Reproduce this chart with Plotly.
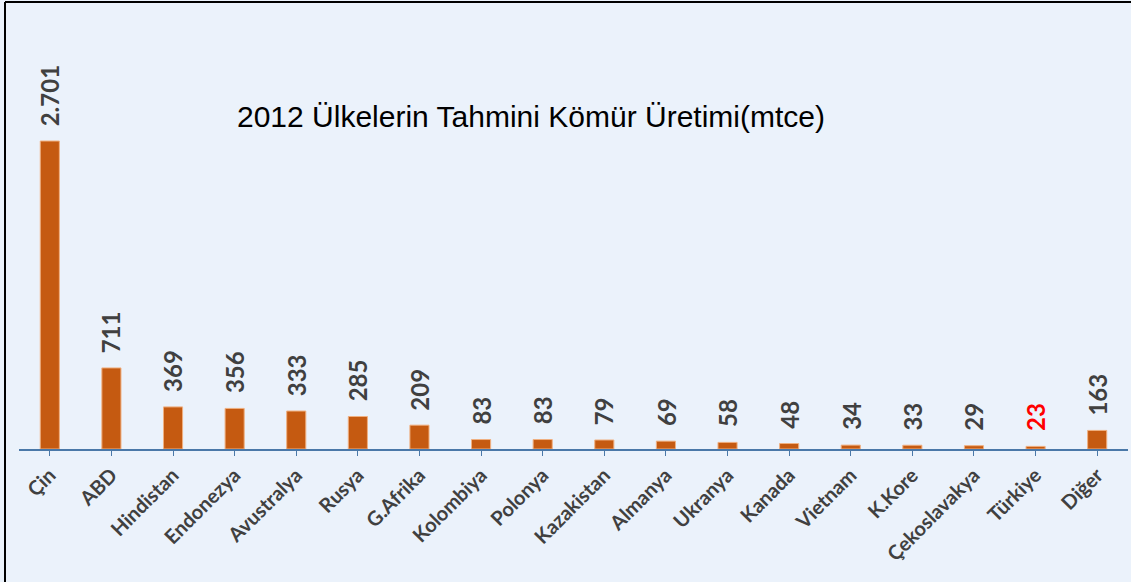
import plotly.graph_objects as go

countries = ["Çin", "ABD", "Hindistan", "Endonezya", "Avustralya", "Rusya", "G.Afrika",
             "Kolombiya", "Polonya", "Kazakistan", "Almanya", "Ukranya", "Kanada",
             "Vietnam", "K.Kore", "Çekoslavakya", "Türkiye", "Diğer"]
production = [2701, 711, 369, 356, 333, 285, 209, 83, 83, 79, 69, 58, 48, 34, 33, 29, 23, 163]
value_labels = ["2.701", "711", "369", "356", "333", "285", "209", "83", "83", "79", "69",
                "58", "48", "34", "33", "29", "23", "163"]
highlight = "Türkiye"

title_text = "2012 Ülkelerin Tahmini Kömür Üretimi(mtce)"

bg = "#EBF2FB"
bar_color = "#C55A11"

fig = go.Figure()
fig.add_trace(go.Bar(
    x=countries, y=production,
    marker=dict(color=bar_color, line=dict(color="#F0B080", width=1)),
    width=0.31,
    hoverinfo="x+y",
))

annotations = []
for c, v, lab in zip(countries, production, value_labels):
    annotations.append(dict(
        x=c, y=v, xref="x", yref="y", text="<b>" + lab + "</b>", showarrow=False,
        textangle=-90, xanchor="center", yanchor="bottom", yshift=13,
        font=dict(family="Lato", size=24, color="#FF0000" if c == highlight else "#404040"),
    ))
annotations.append(dict(
    x=0.462, y=0.812, xref="paper", yref="paper", text=title_text, showarrow=False,
    xanchor="center", yanchor="middle",
    font=dict(family="Liberation Sans", size=30, color="#000000"),
))

fig.update_layout(
    width=1131, height=582,
    margin=dict(l=19, r=3, t=40, b=133),
    paper_bgcolor=bg, plot_bgcolor=bg,
    showlegend=False,
    annotations=annotations,
    xaxis=dict(
        type="category", showgrid=False, zeroline=False,
        showline=True, linecolor="#4A78A8", linewidth=1.5,
        ticks="outside", ticklen=5, tickcolor="#4A78A8",
        tickangle=-45,
        tickvals=countries,
        ticktext=["<b>" + c + "</b>" for c in countries],
        tickfont=dict(family="Lato", size=20, color="#404040"),
        range=[-0.5, 17.5],
    ),
    yaxis=dict(visible=False, range=[0, 3587], showgrid=False, zeroline=False),
    shapes=[
        dict(type="line", xref="paper", yref="paper",
             x0=-14 / 1109, x1=1.003, y0=1 + 38 / 409, y1=1 + 38 / 409,
             line=dict(color="#000000", width=2)),
        dict(type="line", xref="paper", yref="paper",
             x0=-14 / 1109, x1=-14 / 1109, y0=-133 / 409, y1=1 + 38 / 409,
             line=dict(color="#000000", width=2)),
    ],
)

fig.write_html("out.html", config={"displayModeBar": False},
               post_script="document.body.style.margin='0';")
